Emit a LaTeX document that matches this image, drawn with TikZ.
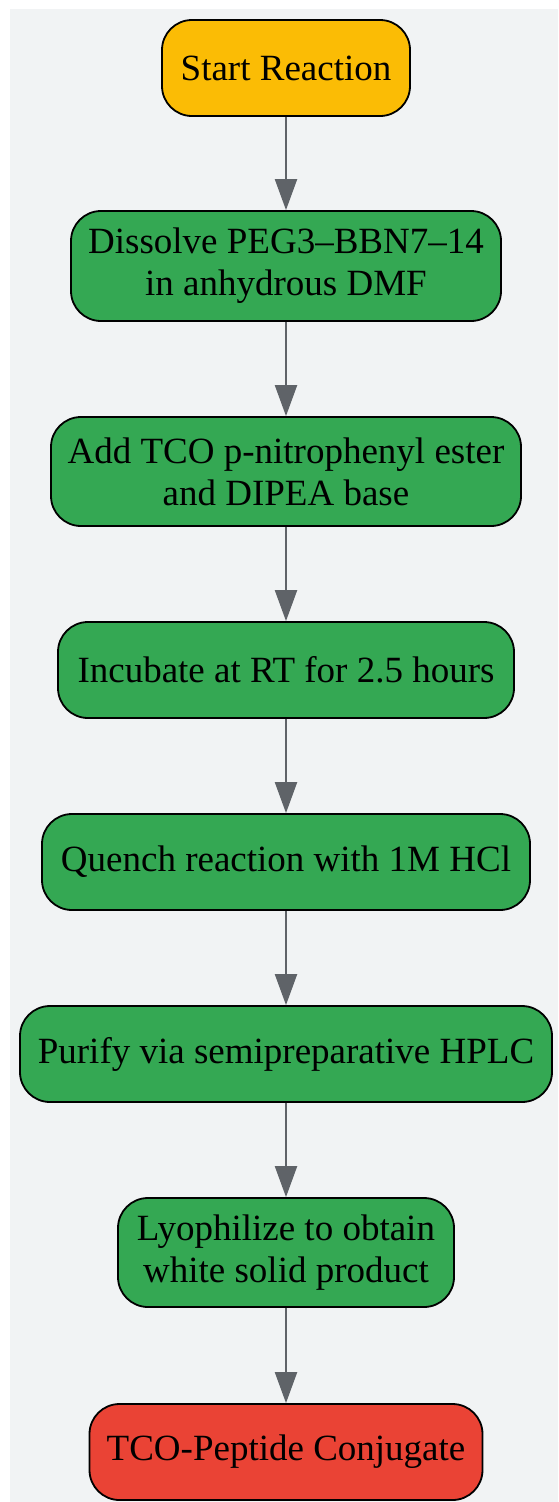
\documentclass[tikz,border=0pt]{standalone}
\usepackage{fontspec}
\setmainfont{Liberation Serif}
\usetikzlibrary{arrows.meta}
\definecolor{bggray}{HTML}{F1F3F4}
\definecolor{gyellow}{HTML}{FBBC05}
\definecolor{ggreen}{HTML}{34A853}
\definecolor{gred}{HTML}{EA4335}
\definecolor{garrow}{HTML}{5F6368}
\tikzset{
  box/.style={draw=black, line width=1.8pt, rounded corners=30pt, align=center,
    font=\fontsize{37}{42}\selectfont, inner sep=0pt, anchor=center},
  startbox/.style={box, fill=gyellow},
  stepbox/.style={box, fill=ggreen},
  endbox/.style={box, fill=gred},
  flow/.style={draw=garrow, line width=2.2pt, -{Triangle[length=31pt,width=22pt]}},
}
\begin{document}
\begin{tikzpicture}[x=1pt,y=-1pt]
\useasboundingbox (0,0) rectangle (558,1502);
\fill[bggray] (10,9) rectangle (558,1502);
\node[startbox, minimum width=248pt, minimum height=96pt] (n1) at (286,68) {Start Reaction};
\node[stepbox, minimum width=430pt, minimum height=110pt] (n2) at (286,266) {Dissolve PEG3–BBN7–14\\in anhydrous DMF};
\node[stepbox, minimum width=470pt, minimum height=109pt] (n3) at (286,471.5) {Add TCO p-nitrophenyl ester\\and DIPEA base};
\node[stepbox, minimum width=456pt, minimum height=96pt] (n4) at (286,670) {Incubate at RT for 2.5 hours};
\node[stepbox, minimum width=488pt, minimum height=96pt] (n5) at (286,862) {Quench reaction with 1M HCl};
\node[stepbox, minimum width=532pt, minimum height=96pt] (n6) at (286,1054) {Purify via semipreparative HPLC};
\node[stepbox, minimum width=336pt, minimum height=109pt] (n7) at (286,1252.5) {Lyophilize to obtain\\white solid product};
\node[endbox, minimum width=393pt, minimum height=96pt] (n8) at (286,1452) {TCO-Peptide Conjugate};
\draw[flow] (n1) -- (n2);
\draw[flow] (n2) -- (n3);
\draw[flow] (n3) -- (n4);
\draw[flow] (n4) -- (n5);
\draw[flow] (n5) -- (n6);
\draw[flow] (n6) -- (n7);
\draw[flow] (n7) -- (n8);
\end{tikzpicture}
\end{document}
